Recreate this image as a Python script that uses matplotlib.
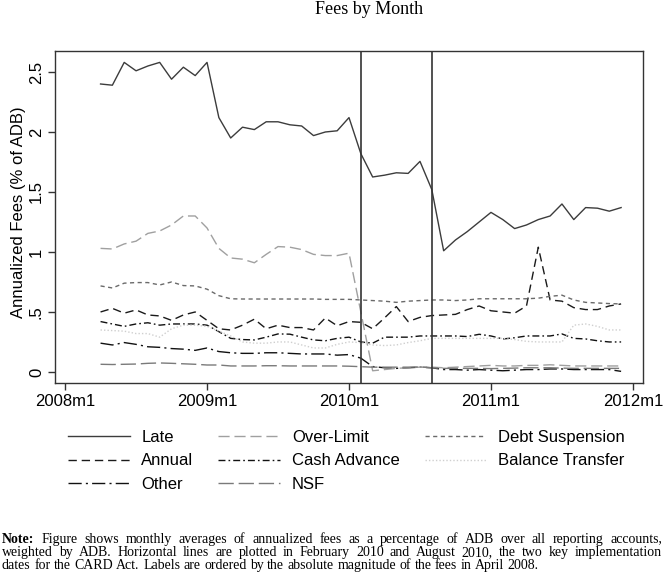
import numpy as np
import matplotlib
matplotlib.use('Agg')
import matplotlib.pyplot as plt

plt.rcParams['font.family'] = 'Liberation Sans'

#%% data (months counted from 2008m1 = 0; series run 2008m4 .. 2011m12)
months = np.arange(3, 48)
event_months = [25, 31]  # 2010m2, 2010m8

late = [2.40, 2.39, 2.58, 2.51, 2.55, 2.58, 2.44, 2.54, 2.47, 2.58,
        2.12, 1.95, 2.04, 2.02, 2.085, 2.085, 2.06, 2.05, 1.97, 2.00,
        2.01, 2.12, 1.82, 1.625, 1.64, 1.66, 1.655, 1.755, 1.52, 1.01,
        1.10, 1.17, 1.25, 1.33, 1.27, 1.195, 1.225, 1.27, 1.30, 1.40,
        1.27, 1.37, 1.365, 1.34, 1.37]
over_limit = [1.03, 1.025, 1.067, 1.09, 1.155, 1.175, 1.225, 1.30, 1.30, 1.20,
              1.03, 0.95, 0.94, 0.91, 0.98, 1.045, 1.04, 1.02, 0.98, 0.97,
              0.97, 0.99, 0.50, 0.01, 0.02, 0.03, 0.035, 0.04, 0.04, 0.035,
              0.04, 0.045, 0.05, 0.055, 0.05, 0.05, 0.055, 0.055, 0.06, 0.055,
              0.05, 0.05, 0.05, 0.05, 0.05]
debt_suspension = [0.717, 0.70, 0.74, 0.745, 0.745, 0.725, 0.75, 0.72, 0.717, 0.69,
                   0.636, 0.61, 0.608, 0.608, 0.608, 0.608, 0.608, 0.608, 0.608, 0.605,
                   0.605, 0.605, 0.60, 0.595, 0.59, 0.58, 0.59, 0.595, 0.60, 0.60,
                   0.595, 0.60, 0.61, 0.61, 0.61, 0.61, 0.61, 0.615, 0.63, 0.64,
                   0.60, 0.58, 0.575, 0.57, 0.567]
annual = [0.50, 0.53, 0.49, 0.517, 0.475, 0.467, 0.43, 0.475, 0.50, 0.43,
          0.36, 0.35, 0.39, 0.44, 0.36, 0.39, 0.37, 0.37, 0.35, 0.45,
          0.385, 0.42, 0.414, 0.36, 0.45, 0.545, 0.42, 0.455, 0.47, 0.475,
          0.48, 0.52, 0.55, 0.51, 0.50, 0.49, 0.55, 1.04, 0.60, 0.59,
          0.536, 0.52, 0.52, 0.55, 0.567]
cash_advance = [0.42, 0.40, 0.38, 0.40, 0.41, 0.39, 0.40, 0.40, 0.40, 0.39,
                0.336, 0.28, 0.27, 0.267, 0.29, 0.317, 0.315, 0.29, 0.267, 0.26,
                0.28, 0.29, 0.25, 0.24, 0.29, 0.29, 0.29, 0.30, 0.30, 0.30,
                0.30, 0.295, 0.314, 0.30, 0.275, 0.285, 0.30, 0.30, 0.30, 0.317,
                0.28, 0.275, 0.26, 0.25, 0.25]
balance_transfer = [0.35, 0.345, 0.34, 0.32, 0.32, 0.29, 0.36, 0.39, 0.39, 0.38,
                    0.34, 0.30, 0.25, 0.24, 0.24, 0.25, 0.25, 0.225, 0.20, 0.20,
                    0.23, 0.25, 0.245, 0.225, 0.22, 0.225, 0.245, 0.26, 0.28, 0.28,
                    0.28, 0.28, 0.28, 0.28, 0.28, 0.27, 0.255, 0.25, 0.25, 0.25,
                    0.39, 0.40, 0.38, 0.35, 0.35]
other = [0.24, 0.225, 0.245, 0.23, 0.21, 0.205, 0.195, 0.19, 0.18, 0.20,
         0.17, 0.16, 0.155, 0.155, 0.16, 0.16, 0.155, 0.15, 0.15, 0.15,
         0.14, 0.145, 0.115, 0.045, 0.035, 0.03, 0.035, 0.04, 0.035, 0.02,
         0.02, 0.015, 0.02, 0.015, 0.01, 0.015, 0.02, 0.02, 0.025, 0.025,
         0.02, 0.02, 0.02, 0.02, 0.005]
nsf = [0.064, 0.062, 0.064, 0.066, 0.072, 0.075, 0.072, 0.068, 0.064, 0.058,
       0.058, 0.05, 0.05, 0.05, 0.052, 0.052, 0.05, 0.05, 0.05, 0.05,
       0.05, 0.048, 0.044, 0.04, 0.04, 0.04, 0.04, 0.042, 0.035, 0.03,
       0.03, 0.03, 0.03, 0.028, 0.03, 0.032, 0.035, 0.035, 0.035, 0.032,
       0.03, 0.03, 0.03, 0.03, 0.03]

x_ticks = [0, 12, 24, 36, 48]
x_tick_labels = ['2008m1', '2009m1', '2010m1', '2011m1', '2012m1']
y_ticks = [0, 0.5, 1, 1.5, 2, 2.5]
y_tick_labels = ['0', '.5', '1', '1.5', '2', '2.5']

note_lines = [
    "Note: Figure shows monthly averages of annualized fees as a percentage of ADB over all reporting accounts,",
    "weighted by ADB. Horizontal lines are plotted in February 2010 and August 2010, the two key implementation",
    "dates for the CARD Act. Labels are ordered by the absolute magnitude of the fees in April 2008.",
]

#%% figure
W, H = 664, 575
fig = plt.figure(figsize=(W / 100, H / 100), dpi=100)
ax = fig.add_axes([55 / W, 1 - 383 / H, 588 / W, 332 / H])

h_late, = ax.plot(months, late, color='#3c3c3c', lw=1.0, label='Late')
h_annual, = ax.plot(months, annual, color='#1a1a1a', lw=1.0, dashes=(6, 3.5), label='Annual')
h_other, = ax.plot(months, other, color='#111111', lw=1.0, dashes=(9.5, 3, 1.5, 3), label='Other')
h_over, = ax.plot(months, over_limit, color='#a0a0a0', lw=1.0, dashes=(8, 3.5), label='Over-Limit')
h_cash, = ax.plot(months, cash_advance, color='#111111', lw=1.0, dashes=(5, 2.2, 1.2, 2.2), label='Cash Advance')
h_nsf, = ax.plot(months, nsf, color='#7a7a7a', lw=1.0, dashes=(11, 3.5), label='NSF')
h_debt, = ax.plot(months, debt_suspension, color='#6a6a6a', lw=1.0, dashes=(3, 2.5), label='Debt Suspension')
h_bt, = ax.plot(months, balance_transfer, color='#cfcfcf', lw=1.0, dashes=(1, 1.5), label='Balance Transfer')

for m in event_months:
    ax.axvline(m, color='#333333', lw=1.2)

ax.set_xlim(-0.85, 48.85)
ax.set_ylim(-0.092, 2.675)
ax.set_xticks(x_ticks)
ax.set_xticklabels(x_tick_labels)
ax.set_yticks(y_ticks)
ax.set_yticklabels(y_tick_labels, rotation=90, va='center')
ax.tick_params(direction='out', length=5, width=1, color='#333333', labelsize=12, pad=3)
for s in ax.spines.values():
    s.set_color('#333333')
    s.set_linewidth(1.0)

fig.text(369 / W, 1 - 10 / H, 'Fees by Month', family='Liberation Serif', fontsize=13,
         ha='center', va='center')
fig.text(19 / W, 1 - 212 / H, 'Annualized Fees (% of ADB)', rotation=90, fontsize=12,
         ha='center', va='center')

handles = [h_late, h_annual, h_other, h_over, h_cash, h_nsf, h_debt, h_bt]
fig.legend(handles, [h.get_label() for h in handles], ncol=3, loc='upper left',
           bbox_to_anchor=(68 / W, 1 - 430 / H), frameon=False, fontsize=12,
           handlelength=3.7, handletextpad=0.7, columnspacing=1.5,
           labelspacing=0.5, borderpad=0, borderaxespad=0)

#%% note, justified like the original caption
renderer = fig.canvas.get_renderer()
note_size = 10
x_left, x_right = 2, 662
baselines = [543, 556, 569]
for i, line in enumerate(note_lines):
    words = line.split(' ')
    texts, widths = [], []
    for j, w in enumerate(words):
        bold = (i == 0 and j == 0)
        t = fig.text(0, 1 - baselines[i] / H, w, family='Liberation Serif', fontsize=note_size,
                     weight='bold' if bold else 'normal', va='baseline', ha='left')
        texts.append(t)
        widths.append(t.get_window_extent(renderer).width)
    if i < len(note_lines) - 1:
        gap = (x_right - x_left - sum(widths)) / (len(words) - 1)
    else:
        gap = note_size * 0.25 * 100 / 72
    x = x_left
    for t, w in zip(texts, widths):
        t.set_x(x / W)
        x += w + gap

fig.savefig('out.png', dpi=100)
